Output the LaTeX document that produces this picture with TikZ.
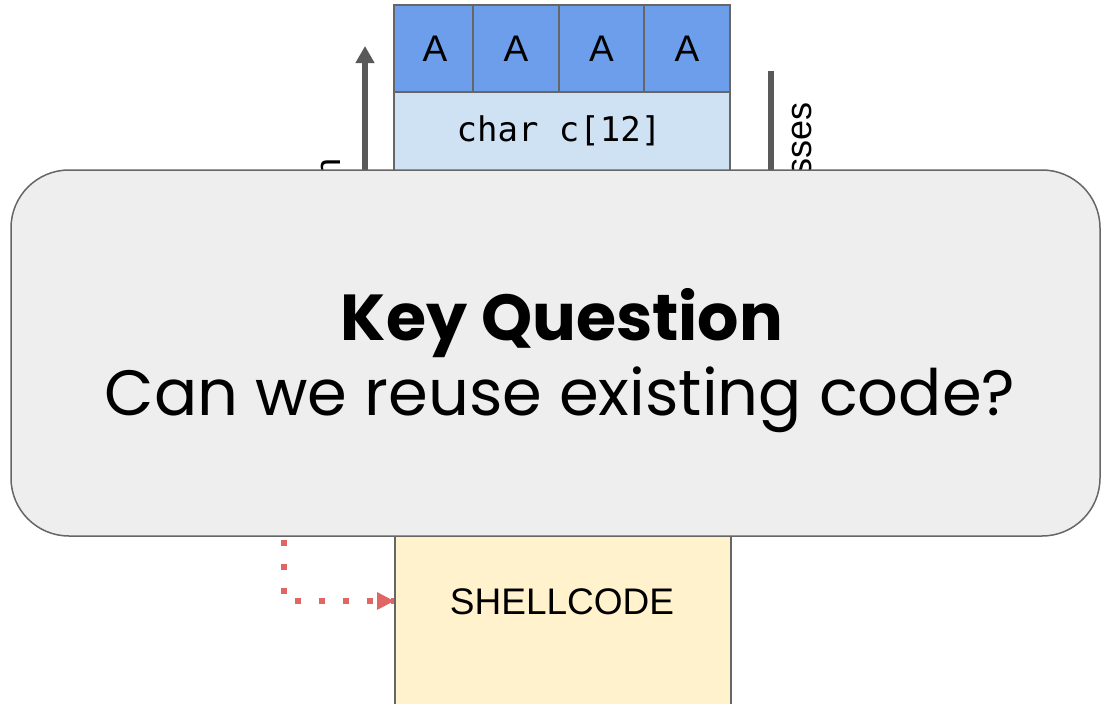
\documentclass[tikz,border=0pt]{standalone}
\usepackage{fontspec}
\setmainfont{Liberation Sans}
\newfontfamily\popfont{Poppins}
\newfontfamily\monofont{DejaVu Sans Mono}
\usetikzlibrary{arrows.meta}
\definecolor{cellblue}{HTML}{6D9EEB}
\definecolor{lightblue}{HTML}{CFE2F3}
\definecolor{paleyellow}{HTML}{FFF2CC}
\definecolor{edgegray}{HTML}{666666}
\definecolor{arrowgray}{HTML}{595959}
\definecolor{calloutfill}{HTML}{EEEEEE}
\definecolor{dotred}{HTML}{E06666}
\tikzset{
  memcell/.style={draw=edgegray, line width=1.5pt, inner sep=0pt},
  sanslabel/.style={font=\fontsize{37}{44}\selectfont, inner sep=0pt},
  sidelabel/.style={font=\fontsize{36}{43}\selectfont, inner sep=0pt, rotate=90},
  grayline/.style={draw=arrowgray, line width=6pt},
  redpath/.style={draw=dotred, line width=6pt, line cap=butt, dash pattern=on 6pt off 18pt},
  callout/.style={draw=edgegray, fill=calloutfill, line width=1.5pt, rounded corners=58pt}
}
\begin{document}
\begin{tikzpicture}[x=1pt,y=-1pt]
\useasboundingbox (0,0) rectangle (1101,704);

% buffer char c[12] and the four overwritten bytes above it
\path[memcell, fill=lightblue] (394,92) rectangle (730,260);
\node[sanslabel, font=\monofont\fontsize{34}{40}\selectfont] (buf) at (559,131) {char c[12]};
\path[memcell, fill=cellblue] (394,5) rectangle (473,92);
\path[memcell, fill=cellblue] (473,5) rectangle (559,92);
\path[memcell, fill=cellblue] (559,5) rectangle (644,92);
\path[memcell, fill=cellblue] (644,5) rectangle (730,92);
\node[sanslabel] (a1) at (435,49) {A};
\node[sanslabel] (a2) at (516,49) {A};
\node[sanslabel] (a3) at (601.5,49) {A};
\node[sanslabel] (a4) at (687,49) {A};

% direction arrow and address axis
\coordinate (growbot) at (365,230);
\coordinate (growtop) at (365,46);
\draw[grayline, -{Triangle[length=17pt,width=18pt]}] (growbot) -- (growtop);
\node[sidelabel, anchor=base east] (growlbl) at (340,158) {n};
\coordinate (addrtop) at (771,71);
\coordinate (addrbot) at (771,230);
\draw[grayline] (addrtop) -- (addrbot);
\node[sidelabel, anchor=base east] (addrlbl) at (811,102) {sses};

% injected shellcode and the jump into it
\node[memcell, fill=paleyellow, minimum width=336pt, minimum height=200pt, anchor=north west] (shell) at (394,520) {};
\node[sanslabel] (shelltxt) at (562,602) {SHELLCODE};
\coordinate (jumpstart) at (284,516);
\coordinate (jumpcorner) at (284,601);
\draw[redpath] (jumpstart) -- (jumpcorner) -- (shell.west |- jumpcorner);
\fill[dotred] (394,601) -- (377,592) -- (377,610) -- cycle;

% overlay with the question
\path[callout] (11,170) rectangle (1100,536);
\node[font=\popfont\bfseries\fontsize{65}{78}\selectfont, inner sep=0pt, anchor=base] (kq) at (562,340) {Key Question};
\node[font=\popfont\fontsize{64}{77}\selectfont, inner sep=0pt, anchor=base] (q) at (560,415) {Can we reuse existing code?};
\end{tikzpicture}
\end{document}
